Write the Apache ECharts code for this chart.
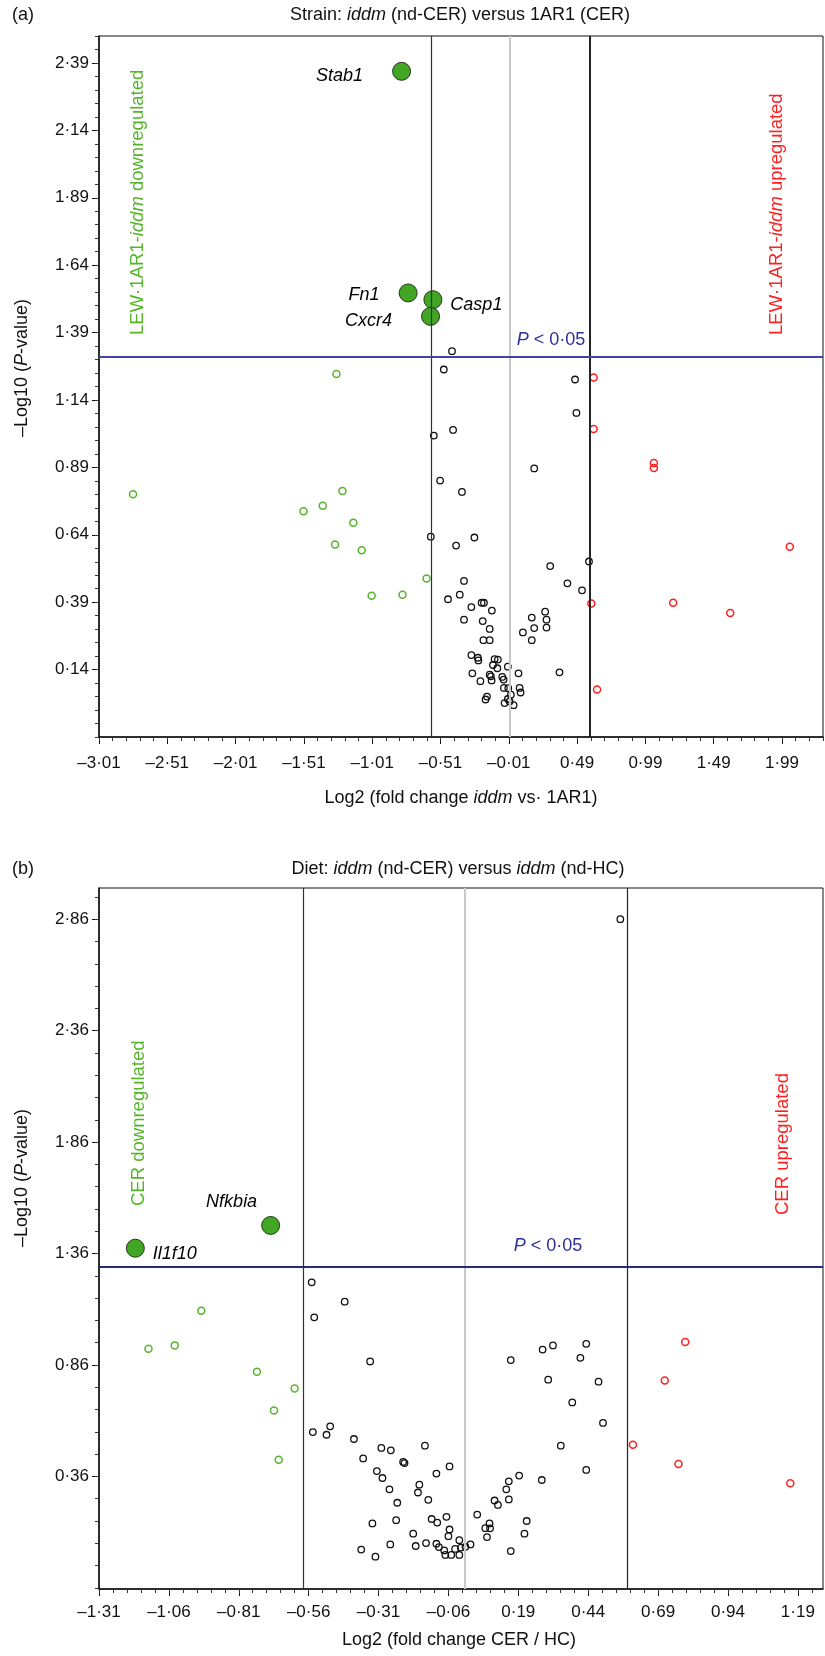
<!DOCTYPE html>
<html>
<head>
<meta charset="utf-8">
<title>Volcano plots</title>
<script src="https://cdn.jsdelivr.net/npm/echarts@6/dist/echarts.min.js"></script>
<style>
  html, body { margin: 0; padding: 0; background: #fff; }
  #chart { width: 825px; height: 1656px; }
</style>
</head>
<body>
<div id="chart"></div>
<script>
// (a) strain: iddm (nd-CER) vs 1AR1 (CER) -- [log2 fold change, -log10 P]
var strainNs = [
  [-0.426, 1.321], [-0.486, 1.253], [-0.559, 1.008], [-0.418, 1.029], [-0.513, 0.841],
  [-0.353, 0.799], [-0.581, 0.633], [-0.262, 0.630], [-0.396, 0.600], [-0.338, 0.469],
  [-0.455, 0.401], [-0.369, 0.418], [-0.284, 0.372], [-0.209, 0.388], [-0.192, 0.388],
  [-0.134, 0.359], [-0.338, 0.325], [-0.201, 0.320], [-0.150, 0.291], [-0.196, 0.249],
  [-0.150, 0.249], [-0.284, 0.194], [-0.236, 0.184], [-0.233, 0.174], [-0.114, 0.179],
  [-0.090, 0.177], [-0.126, 0.157], [-0.094, 0.145], [-0.017, 0.151], [-0.277, 0.126],
  [-0.150, 0.121], [-0.141, 0.115], [-0.136, 0.100], [-0.218, 0.097], [-0.058, 0.113],
  [-0.048, 0.103], [0.061, 0.126], [-0.046, 0.072], [-0.014, 0.071], [0.069, 0.072],
  [0.076, 0.055], [-0.170, 0.040], [-0.180, 0.029], [0.005, 0.047], [-0.017, 0.031],
  [-0.041, 0.016], [-0.004, 0.022], [0.025, 0.008], [0.093, 0.278],
  [0.475, 1.216], [0.485, 1.092], [0.176, 0.886], [0.577, 0.541], [0.293, 0.524],
  [0.419, 0.460], [0.526, 0.434], [0.256, 0.355], [0.158, 0.333], [0.266, 0.325],
  [0.176, 0.294], [0.266, 0.296], [0.158, 0.249], [0.361, 0.130]
];
var strainDown = [
  [-2.761, 0.790], [-1.272, 1.236], [-1.228, 0.802], [-1.513, 0.727], [-1.372, 0.748],
  [-1.148, 0.685], [-1.282, 0.604], [-1.087, 0.583], [-0.612, 0.478], [-1.014, 0.414],
  [-0.788, 0.418]
];
var strainUp = [
  [0.611, 1.223], [0.611, 1.032], [1.052, 0.906], [1.052, 0.888], [2.047, 0.596],
  [0.594, 0.385], [1.193, 0.388], [1.611, 0.350], [0.636, 0.066]
];
var strainGenes = ['Stab1', 'Fn1', 'Casp1', 'Cxcr4'];
var strainGeneX = [-0.795, -0.747, -0.566, -0.583];
var strainGeneY = [2.359, 1.537, 1.512, 1.450];
var strainXTicks = [-3.01, -2.51, -2.01, -1.51, -1.01, -0.51, -0.01, 0.49, 0.99, 1.49, 1.99];
var strainYTicks = [0.14, 0.39, 0.64, 0.89, 1.14, 1.39, 1.64, 1.89, 2.14, 2.39];

// (b) diet: iddm (nd-CER) vs iddm (nd-HC)
var dietNs = [
  [-0.549, 1.231], [-0.540, 1.074], [-0.431, 1.144], [-0.340, 0.876], [0.163, 0.882],
  [-0.545, 0.559], [-0.496, 0.547], [-0.483, 0.585], [-0.398, 0.528], [-0.365, 0.441],
  [-0.300, 0.488], [-0.266, 0.477], [-0.222, 0.425], [-0.217, 0.420], [-0.144, 0.498],
  [-0.056, 0.405], [-0.103, 0.373], [-0.316, 0.384], [-0.296, 0.353], [-0.271, 0.302],
  [-0.164, 0.323], [-0.169, 0.288], [-0.243, 0.242], [-0.132, 0.255], [-0.332, 0.149],
  [-0.247, 0.164], [-0.120, 0.169], [-0.100, 0.153], [-0.067, 0.179], [-0.056, 0.122],
  [-0.060, 0.092], [-0.186, 0.103], [-0.372, 0.032], [-0.321, 0.000], [-0.268, 0.055],
  [-0.177, 0.048], [-0.140, 0.061], [-0.103, 0.058], [-0.094, 0.043], [-0.075, 0.028],
  [-0.071, 0.008], [-0.050, 0.008], [-0.036, 0.035], [-0.021, 0.074], [-0.021, 0.008],
  [-0.015, 0.041], [0.001, 0.044], [0.019, 0.055], [0.043, 0.189], [0.072, 0.128],
  [0.087, 0.149], [0.089, 0.127], [0.078, 0.088], [0.105, 0.252], [0.117, 0.232],
  [0.147, 0.302], [0.156, 0.338], [0.156, 0.257], [0.193, 0.364], [0.163, 0.025],
  [0.220, 0.160], [0.212, 0.103],
  [0.277, 0.929], [0.314, 0.948], [0.433, 0.955], [0.412, 0.892], [0.297, 0.794],
  [0.477, 0.785], [0.383, 0.692], [0.493, 0.600], [0.342, 0.498], [0.433, 0.389],
  [0.274, 0.344], [0.555, 2.860]
];
var dietDown = [
  [-0.944, 1.103], [-1.133, 0.933], [-1.039, 0.948], [-0.745, 0.830], [-0.610, 0.754],
  [-0.684, 0.656], [-0.667, 0.435]
];
var dietUp = [
  [0.787, 0.963], [0.714, 0.790], [0.600, 0.502], [0.763, 0.416], [1.163, 0.329]
];
var dietGenes = ['Il1f10', 'Nfkbia'];
var dietGeneX = [-1.180, -0.696];
var dietGeneY = [1.384, 1.486];
var dietXTicks = [-1.31, -1.06, -0.81, -0.56, -0.31, -0.06, 0.19, 0.44, 0.69, 0.94, 1.19];
var dietYTicks = [0.36, 0.86, 1.36, 1.86, 2.36, 2.86];

var foldCut = 0.585; // log2(1.5)
var pCut = 1.301;    // -log10(0.05)

var FONT = '"Liberation Sans", Arial, Helvetica, sans-serif';
var GREEN = '#55b52a';
var RED = '#ff1f1f';

// where each gene name sits next to its dot
var geneLabel = {
  Stab1: { position: 'left', distance: 29, offset: [0, 5] },
  Fn1: { position: 'left', distance: 19, offset: [0, 2] },
  Casp1: { position: 'right', distance: 8, offset: [0, 5] },
  Cxcr4: { position: 'left', distance: 29, offset: [0, 5] },
  Nfkbia: { position: 'left', distance: 4, offset: [0, -23] },
  Il1f10: { position: 'right', distance: 8, offset: [0, 6] }
};

function fmt(v) {
  var s = Math.abs(v).toFixed(2).replace('.', '\u00b7');
  return (v < -1e-9 ? '\u2013' : '') + s;
}

function steps(anchor, step, min, max) {
  var out = [];
  var k0 = Math.ceil((min - anchor) / step - 1e-6);
  var k1 = Math.floor((max - anchor) / step + 1e-6);
  for (var k = k0; k <= k1; k++) out.push(+(anchor + k * step).toFixed(4));
  return out;
}

function mainAxis(grid, pos, min, max, ticks, margin) {
  return {
    type: 'value', gridIndex: grid, position: pos, min: min, max: max,
    axisLine: { show: true, onZero: false, lineStyle: { color: '#111', width: 1.5 } },
    axisTick: { show: true, customValues: ticks, length: 7, lineStyle: { color: '#111', width: 1 } },
    axisLabel: {
      show: true, customValues: ticks, formatter: fmt, margin: margin,
      color: '#111', fontSize: 17, fontFamily: FONT, lineHeight: 17
    },
    splitLine: { show: false }
  };
}

function minorAxis(grid, pos, min, max, ticks) {
  return {
    type: 'value', gridIndex: grid, position: pos, min: min, max: max,
    axisLine: { show: false, onZero: false },
    axisTick: { show: true, customValues: ticks, length: 4, lineStyle: { color: '#333', width: 1 } },
    axisLabel: { show: false },
    splitLine: { show: false }
  };
}

function genes(names, xs, ys) {
  return names.map(function (n, i) {
    var p = geneLabel[n];
    return {
      name: n, value: [xs[i], ys[i]],
      label: { position: p.position, distance: p.distance, offset: p.offset }
    };
  });
}

function panelSeries(ax, ns, down, up, geneData, pColor, rightWidth) {
  return [
    {
      type: 'scatter', xAxisIndex: ax, yAxisIndex: ax, data: [], z: 1, silent: true,
      markLine: {
        symbol: ['none', 'none'], silent: true, animation: false,
        label: { show: false },
        data: [
          { xAxis: 0, lineStyle: { color: '#c9c9c9', width: 2, type: 'solid' } },
          { xAxis: -foldCut, lineStyle: { color: '#333', width: 1.2, type: 'solid' } },
          { xAxis: foldCut, lineStyle: { color: '#222', width: rightWidth, type: 'solid' } },
          { yAxis: pCut, lineStyle: { color: pColor, width: 2, type: 'solid' } }
        ]
      }
    },
    {
      type: 'scatter', xAxisIndex: ax, yAxisIndex: ax, data: ns, z: 3,
      symbol: 'circle', symbolSize: 6.5,
      itemStyle: { color: 'rgba(0,0,0,0)', borderColor: '#111', borderWidth: 1.3, opacity: 1 }
    },
    {
      type: 'scatter', xAxisIndex: ax, yAxisIndex: ax, data: down, z: 3,
      symbol: 'circle', symbolSize: 7,
      itemStyle: { color: 'rgba(0,0,0,0)', borderColor: GREEN, borderWidth: 1.5, opacity: 1 }
    },
    {
      type: 'scatter', xAxisIndex: ax, yAxisIndex: ax, data: up, z: 3,
      symbol: 'circle', symbolSize: 7,
      itemStyle: { color: 'rgba(0,0,0,0)', borderColor: RED, borderWidth: 1.5, opacity: 1 }
    },
    {
      type: 'scatter', xAxisIndex: ax, yAxisIndex: ax, data: geneData, z: 4,
      symbol: 'circle', symbolSize: 18,
      itemStyle: { color: '#43a524', borderColor: '#26361f', borderWidth: 1, opacity: 1 },
      label: {
        show: true, formatter: '{b}', color: '#000', fontSize: 18,
        fontStyle: 'italic', fontFamily: FONT
      }
    }
  ];
}

function txt(x, y, text, size, color, opt) {
  opt = opt || {};
  var align = opt.align || 'center';
  return {
    type: 'text', x: x, y: y, rotation: opt.rot || 0, silent: true,
    style: {
      text: text, fill: color, fontSize: size, fontFamily: FONT,
      fontStyle: opt.italic ? 'italic' : 'normal',
      align: align, textAlign: align, verticalAlign: 'middle', textVerticalAlign: 'middle',
      rich: {
        n: { fontSize: size, fontFamily: FONT, fill: color, fontStyle: 'normal' },
        i: { fontSize: size, fontFamily: FONT, fill: color, fontStyle: 'italic' }
      }
    }
  };
}

var ax = { aX: [-3.01, 2.29], aY: [-0.11, 2.49], bX: [-1.31, 1.28], bY: [-0.145, 3.0] };

var chart = echarts.init(document.getElementById('chart'));
chart.setOption({
  animation: false,
  backgroundColor: '#fff',
  grid: [
    { left: 99, top: 36, width: 724, height: 701, show: true, borderColor: '#111', borderWidth: 1, backgroundColor: 'transparent' },
    { left: 99, top: 888, width: 724, height: 701, show: true, borderColor: '#111', borderWidth: 1, backgroundColor: 'transparent' }
  ],
  xAxis: [
    mainAxis(0, 'bottom', ax.aX[0], ax.aX[1], strainXTicks, 18),
    minorAxis(0, 'bottom', ax.aX[0], ax.aX[1], steps(-3.01, 0.1, ax.aX[0], ax.aX[1])),
    mainAxis(1, 'bottom', ax.bX[0], ax.bX[1], dietXTicks, 15),
    minorAxis(1, 'bottom', ax.bX[0], ax.bX[1], steps(-1.31, 0.05, ax.bX[0], ax.bX[1]))
  ],
  yAxis: [
    mainAxis(0, 'left', ax.aY[0], ax.aY[1], strainYTicks, 10),
    minorAxis(0, 'left', ax.aY[0], ax.aY[1], steps(0.14, 0.05, ax.aY[0], ax.aY[1])),
    mainAxis(1, 'left', ax.bY[0], ax.bY[1], dietYTicks, 10),
    minorAxis(1, 'left', ax.bY[0], ax.bY[1], steps(0.36, 0.1, ax.bY[0], ax.bY[1]))
  ],
  series: panelSeries(0, strainNs, strainDown, strainUp, genes(strainGenes, strainGeneX, strainGeneY), '#4343a3', 2)
    .concat(panelSeries(2, dietNs, dietDown, dietUp, genes(dietGenes, dietGeneX, dietGeneY), '#28287f', 1.2)),
  graphic: [
    txt(12, 15, '(a)', 18, '#111', { align: 'left' }),
    txt(460, 15, '{n|Strain: }{i|iddm}{n| (nd-CER) versus 1AR1 (CER)}', 18, '#111'),
    txt(22, 368, '{n|\u2013Log10 (}{i|P}{n|-value)}', 18, '#111', { rot: Math.PI / 2 }),
    txt(461, 798, '{n|Log2 (fold change }{i|iddm}{n| vs\u00b7 1AR1)}', 18, '#111'),
    txt(138, 335, '{n|LEW\u00b71AR1-}{i|iddm}{n| downregulated}', 18.5, GREEN, { rot: Math.PI / 2, align: 'left' }),
    txt(777, 335, '{n|LEW\u00b71AR1-}{i|iddm}{n| upregulated}', 18.5, RED, { rot: Math.PI / 2, align: 'left' }),
    txt(551, 340, '{i|P}{n| < 0\u00b705}', 18, '#2e2e9a'),

    txt(12, 869, '(b)', 18, '#111', { align: 'left' }),
    txt(458, 869, '{n|Diet: }{i|iddm}{n| (nd-CER) versus }{i|iddm}{n| (nd-HC)}', 18, '#111'),
    txt(22, 1178, '{n|\u2013Log10 (}{i|P}{n|-value)}', 18, '#111', { rot: Math.PI / 2 }),
    txt(459, 1640, 'Log2 (fold change CER / HC)', 18, '#111'),
    txt(138.5, 1206, 'CER downregulated', 18.5, GREEN, { rot: Math.PI / 2, align: 'left' }),
    txt(783, 1215, 'CER upregulated', 18.5, RED, { rot: Math.PI / 2, align: 'left' }),
    txt(548, 1246, '{i|P}{n| < 0\u00b705}', 18, '#2e2e9a')
  ]
});
</script>
</body>
</html>
